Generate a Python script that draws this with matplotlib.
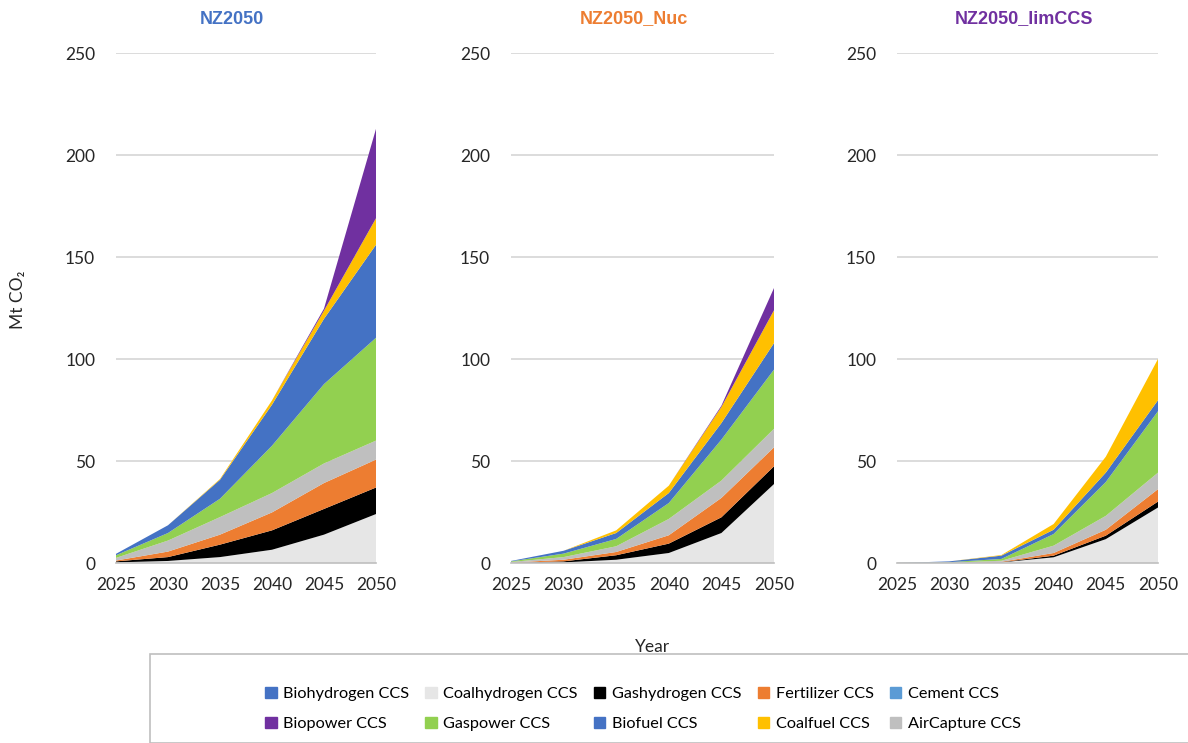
import numpy as np
import matplotlib.pyplot as plt
from matplotlib.patches import Rectangle

plt.rcParams['font.family'] = ['Lato', 'DejaVu Sans']

years = [2025, 2030, 2035, 2040, 2045, 2050]

# series in stacking order (bottom -> top)
series = ['Biohydrogen CCS', 'Coalhydrogen CCS', 'Gashydrogen CCS', 'Fertilizer CCS',
          'Cement CCS', 'AirCapture CCS', 'Gaspower CCS', 'Biofuel CCS',
          'Coalfuel CCS', 'Biopower CCS']
colors = ['#4472C4', '#E6E6E6', '#000000', '#ED7D31', '#5B9BD5', '#BFBFBF',
          '#92D050', '#4472C4', '#FFC000', '#7030A0']

# Mt CO2 captured, per scenario
nz2050 = {
    'Biohydrogen CCS':  [0, 0, 0, 0, 0, 0],
    'Coalhydrogen CCS': [0.3, 1.0, 2.9, 6.5, 13.9, 24.0],
    'Gashydrogen CCS':  [0.5, 1.9, 6.1, 9.5, 12.6, 13.0],
    'Fertilizer CCS':   [0.4, 2.7, 4.9, 8.8, 12.7, 13.7],
    'Cement CCS':       [0, 0, 0, 0, 0, 0],
    'AirCapture CCS':   [1.3, 5.4, 8.6, 9.5, 9.6, 9.3],
    'Gaspower CCS':     [1.3, 3.7, 9.0, 23.2, 38.9, 50.4],
    'Biofuel CCS':      [0.7, 3.8, 9.3, 20.1, 32.0, 45.6],
    'Coalfuel CCS':     [0, 0, 0.4, 2.1, 4.0, 13.0],
    'Biopower CCS':     [0, 0, 0, 0, 1.0, 43.8],
}
nz2050_nuc = {
    'Biohydrogen CCS':  [0, 0, 0, 0, 0, 0],
    'Coalhydrogen CCS': [0.1, 0.3, 1.6, 4.9, 14.7, 38.7],
    'Gashydrogen CCS':  [0.0, 0.5, 2.2, 4.6, 7.7, 8.7],
    'Fertilizer CCS':   [0.1, 0.8, 1.6, 4.1, 9.5, 9.3],
    'Cement CCS':       [0, 0, 0, 0, 0, 0],
    'AirCapture CCS':   [0.3, 1.3, 2.8, 8.0, 8.5, 9.1],
    'Gaspower CCS':     [0.3, 1.7, 3.6, 7.8, 20.1, 29.0],
    'Biofuel CCS':      [0.2, 1.4, 2.9, 4.9, 8.1, 13.0],
    'Coalfuel CCS':     [0, 0, 1.3, 3.6, 7.9, 16.1],
    'Biopower CCS':     [0, 0, 0, 0, 0.6, 10.9],
}
nz2050_limccs = {
    'Biohydrogen CCS':  [0, 0, 0, 0, 0, 0],
    'Coalhydrogen CCS': [0, 0.1, 0.3, 2.8, 11.7, 27.2],
    'Gashydrogen CCS':  [0, 0, 0.1, 0.8, 1.7, 2.9],
    'Fertilizer CCS':   [0, 0, 0.2, 1.3, 2.9, 6.1],
    'Cement CCS':       [0, 0, 0, 0, 0, 0],
    'AirCapture CCS':   [0, 0.1, 0.5, 3.6, 6.8, 8.1],
    'Gaspower CCS':     [0, 0.2, 0.9, 5.7, 16.6, 30.1],
    'Biofuel CCS':      [0, 0.4, 1.6, 2.1, 4.6, 5.4],
    'Coalfuel CCS':     [0, 0, 0.3, 2.8, 7.8, 20.2],
    'Biopower CCS':     [0, 0, 0, 0, 0, 0],
}

scenarios = [('NZ2050', '#4472C4', nz2050),
             ('NZ2050_Nuc', '#ED7D31', nz2050_nuc),
             ('NZ2050_limCCS', '#7030A0', nz2050_limccs)]

W, H = 1188, 743
fig = plt.figure(figsize=(W / 100, H / 100), dpi=100)

# axes positions in pixels: (left, width, title centre)
panels = [(116, 260, 232), (511, 263, 634), (897, 261, 1024)]
top_px, bot_px = 53, 563

for (title, tcol, data), (lx, wx, tx) in zip(scenarios, panels):
    ax = fig.add_axes([lx / W, (H - bot_px) / H, wx / W, (bot_px - top_px) / H])
    vals = [data[s] for s in series]
    ax.stackplot(years, vals, colors=colors, linewidth=0)
    ax.set_xlim(2025, 2050)
    ax.set_ylim(0, 250)
    ax.set_yticks([0, 50, 100, 150, 200, 250])
    ax.set_xticks(years)
    ax.yaxis.grid(True, color='#D9D9D9', linewidth=1.3)
    ax.set_axisbelow(True)
    for sp in ['top', 'right', 'left']:
        ax.spines[sp].set_visible(False)
    ax.spines['bottom'].set_color('#BFBFBF')
    ax.spines['bottom'].set_linewidth(1.2)
    ax.tick_params(axis='both', length=0, labelsize=12.5, colors='#262626')
    ax.tick_params(axis='y', pad=15)
    ax.tick_params(axis='x', pad=10)
    fig.text(tx / W, 1 - 19 / H, title, color=tcol, fontsize=13,
             fontweight='bold', family=['Liberation Sans', 'DejaVu Sans'],
             ha='center', va='center')

fig.text(18 / W, 1 - 300 / H, 'Mt CO\u2082', rotation=90, fontsize=12.5,
         color='#262626', ha='center', va='center')
fig.text(652 / W, 1 - 647 / H, 'Year', fontsize=12.5, color='#262626',
         ha='center', va='center')

# legend box
fig.patches.append(Rectangle((150 / W, 0), 1.0, (H - 654) / H, transform=fig.transFigure,
                             facecolor='white', edgecolor='#BFBFBF', linewidth=1.2))

order = ['Biohydrogen CCS', 'Biopower CCS', 'Coalhydrogen CCS', 'Gaspower CCS',
         'Gashydrogen CCS', 'Biofuel CCS', 'Fertilizer CCS', 'Coalfuel CCS',
         'Cement CCS', 'AirCapture CCS']
leg_handles = [plt.Rectangle((0, 0), 1, 1, color=colors[series.index(s)]) for s in order]
fig.legend(leg_handles, order, ncol=5, loc='center', bbox_to_anchor=(643 / W, 1 - 709 / H),
           frameon=False, fontsize=11.7, handlelength=0.7, handleheight=0.7,
           handletextpad=0.4, columnspacing=1.0, labelspacing=0.95)

fig.savefig('out.png', dpi=100)
